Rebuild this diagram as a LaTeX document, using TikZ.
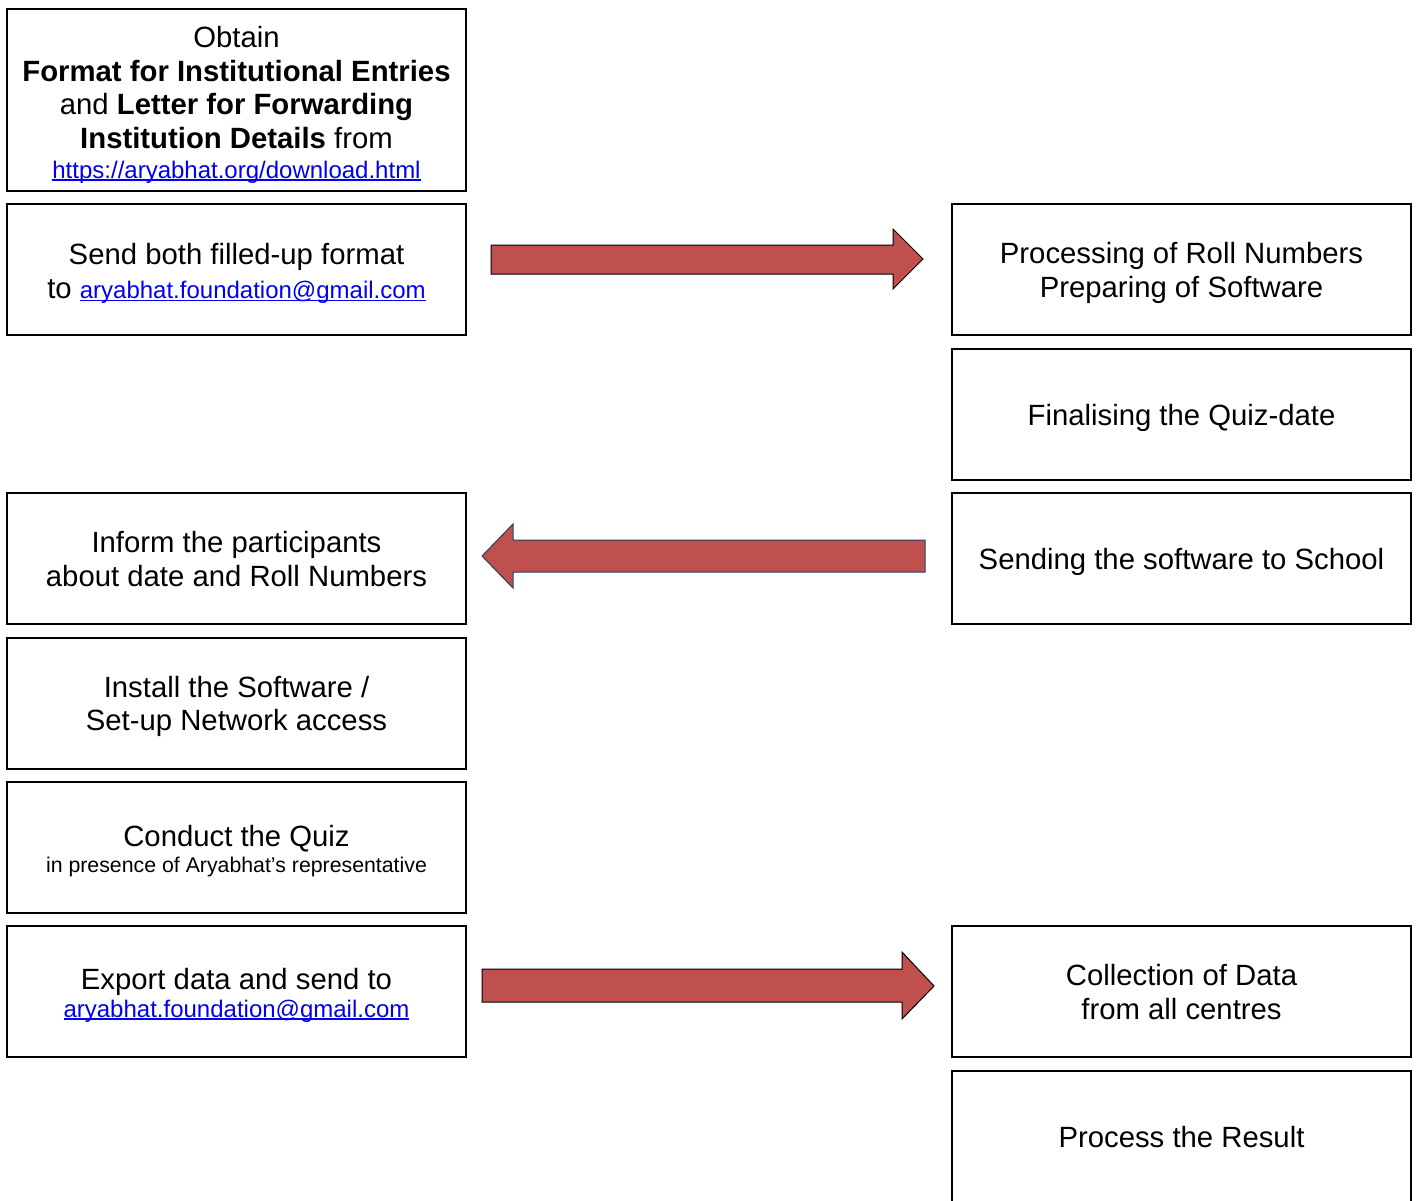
\documentclass[tikz,border=0pt]{standalone}
\usepackage{fontspec}
\setmainfont{Liberation Sans}
\usepackage{xcolor}
\definecolor{lnkblue}{HTML}{0000EE}
\definecolor{arrfill}{HTML}{C0504D}
\definecolor{arrnavy}{HTML}{243F60}
\newsavebox\lkbox
\newcommand\lnk[1]{{\color{lnkblue}\sbox\lkbox{\color{lnkblue}#1}\rlap{\rule[-2.6pt]{\wd\lkbox}{1.6pt}}\usebox\lkbox}}
\newcommand\tp[1][28.5pt]{\rule{0pt}{#1}}
\newcommand\bt{\rule[-6.2pt]{0pt}{6.2pt}}
\tikzset{
  stepbox/.style={draw=black, line width=2pt, minimum width=459pt, minimum height=131pt,
    align=center, inner sep=0pt, font=\fontsize{29.3}{33.5}\selectfont},
  blockarrow/.style={fill=arrfill, draw=black, line width=1pt, line join=miter},
}
\begin{document}
\begin{tikzpicture}[x=1pt,y=-1pt]
\useasboundingbox (0,0) rectangle (1421,1201);
% left column
\node[stepbox, minimum height=182pt] (obtain) at (236.5,100) {\tp[30.5pt]Obtain\\
\textbf{Format for Institutional Entries}\\
and \textbf{Letter for Forwarding}\\
\textbf{Institution Details} from\\[-3.5pt]
{\fontsize{24}{29}\selectfont\lnk{https://aryabhat.org/download.html}}};
\node[stepbox] (send) at (236.5,269.5) {\tp Send both filled-up format\\[1pt]
to {\fontsize{24}{29}\selectfont\lnk{aryabhat.foundation@gmail.com}}};
\node[stepbox] (inform) at (236.5,558.5) {\tp Inform the participants\\about date and Roll Numbers\bt};
\node[stepbox] (install) at (236.5,703) {\tp Install the Software /\\Set-up Network access};
\node[stepbox] (conduct) at (236.5,847.5) {\tp Conduct the Quiz\\[-7.5pt]
{\fontsize{21.3}{24}\selectfont in presence of Aryabhat’s representative}};
\node[stepbox] (export) at (236.5,991.5) {\tp Export data and send to\\[-5.5pt]
{\fontsize{24}{29}\selectfont\lnk{aryabhat.foundation@gmail.com}}};
% right column
\node[stepbox] (proc) at (1181.5,269.5) {\tp Processing of Roll Numbers\\Preparing of Software};
\node[stepbox] (final) at (1181.5,414) {\tp Finalising the Quiz-date};
\node[stepbox] (sendsw) at (1181.5,558.5) {\tp Sending the software to School};
\node[stepbox] (collect) at (1181.5,991.5) {\tp Collection of Data\\from all centres\bt};
\node[stepbox] (result) at (1181.5,1136.5) {\tp Process the Result\bt};
% block arrows
\draw[blockarrow] (491,245) -- (893,245) -- (893,229) -- (923,259) -- (893,289) -- (893,274) -- (491,274) -- cycle;
\draw[blockarrow, draw=arrnavy] (925,540) -- (513,540) -- (513,524) -- (482,556) -- (513,588) -- (513,572) -- (925,572) -- cycle;
\draw[blockarrow] (482,969) -- (902,969) -- (902,952) -- (934,986) -- (902,1019) -- (902,1002) -- (482,1002) -- cycle;
\end{tikzpicture}
\end{document}
